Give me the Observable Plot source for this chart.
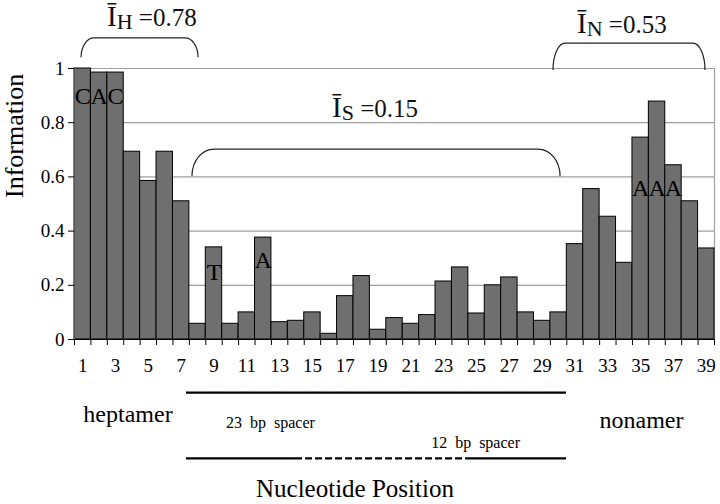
<!DOCTYPE html>
<html>
<head>
<meta charset="utf-8">
<script src="https://cdn.jsdelivr.net/npm/d3@7"></script>
<script src="https://cdn.jsdelivr.net/npm/@observablehq/plot@0.6"></script>
<style>
  html, body { margin: 0; padding: 0; background: #fff; }
</style>
</head>
<body>
<div id="chart"></div>
<script>
// ---- data ----
const positions = [1,2,3,4,5,6,7,8,9,10,11,12,13,14,15,16,17,18,19,20,21,22,23,24,25,26,27,28,29,30,31,32,33,34,35,36,37,38,39];
const information = [1.0,0.985,0.985,0.693,0.585,0.693,0.51,0.058,0.34,0.058,
                     0.10,0.376,0.064,0.069,0.10,0.021,0.16,0.234,0.036,0.079,
                     0.058,0.09,0.214,0.266,0.096,0.20,0.229,0.10,0.069,0.10,
                     0.352,0.555,0.453,0.283,0.745,0.878,0.643,0.51,0.336];
const xTickLabels = [1,3,5,7,9,11,13,15,17,19,21,23,25,27,29,31,33,35,37,39];
const yTicks = [0,0.2,0.4,0.6,0.8,1];
const yTickLabels = ["0","0.2","0.4","0.6","0.8","1"];

// consensus bases written on bars
const baseLetters = ["C","A","C","T","A","A","A","A"];
const baseLetterPos = [1,2,3,9,12,35,36,37];
const baseLetterY = [0.87,0.87,0.87,0.221,0.262,0.529,0.529,0.529];

// average information brackets (heptamer, spacer, nonamer)
const bracketNames = ["H","S","N"];
const bracketValues = ["0.78","0.15","0.53"];
const bracketFrom = [0.93, 7.69, 29.69];
const bracketTo = [8.06, 30.12, 38.95];
const bracketTop = [1.111, 0.701, 1.092];
const bracketBottom = [1.04, 0.601, 0.993];
const bracketLabelX = [2.51, 16.22, 31.15];
const bracketLabelY = [1.155, 0.819, 1.129];

// region labels below the axis
const regionLabels = ["heptamer", "nonamer"];
const regionX = [3.76, 35.05];
const regionY = [-0.306, -0.325];
const spacerLabels = ["23\u00a0 bp\u00a0 spacer", "12\u00a0 bp\u00a0 spacer"];
const spacerLabelX = [12.44, 24.94];
const spacerLabelY = [-0.325, -0.399];
const spacerLineY = [-0.196, -0.439];
const spacerSolidFrom = [7.32, 7.32, 24.45];
const spacerSolidTo = [30.48, 13.97, 30.48];
const spacerSolidRow = [0, 1, 1];
const spacerDashFrom = [13.97];
const spacerDashTo = [24.45];
const xTitle = "Nucleotide Position";
const xTitleX = 17.59;
const xTitleY = -0.583;
const yTitle = "Information";

// ---- build ----
const serif = "'Liberation Serif', 'Times New Roman', serif";
const bars = positions.map((p, i) => ({pos: p, info: information[i]}));
const letters = baseLetters.map((l, i) => ({l, pos: baseLetterPos[i], y: baseLetterY[i]}));
const boundaries = positions.map(p => p - 0.5).concat([positions[positions.length - 1] + 0.5]);
const regions = regionLabels.map((t, i) => ({t, x: regionX[i], y: regionY[i]}));
const spacers = spacerLabels.map((t, i) => ({t, x: spacerLabelX[i], y: spacerLabelY[i]}));
const solidSegs = spacerSolidFrom.map((f, i) => ({x1: f, x2: spacerSolidTo[i], y: spacerLineY[spacerSolidRow[i]]}));
const dashSegs = spacerDashFrom.map((f, i) => ({x1: f, x2: spacerDashTo[i], y: spacerLineY[1]}));
const bracketCorner = [13, 22, 12];

function bracketMark(index, scales) {
  const {x, y} = scales;
  const g = d3.create("svg:g");
  bracketNames.forEach((name, i) => {
    const x1 = x(bracketFrom[i]), x2 = x(bracketTo[i]);
    const yt = y(bracketTop[i]), yb = y(bracketBottom[i]);
    const rx = bracketCorner[i], ry = yb - yt;
    g.append("path")
      .attr("d", `M${x1},${yb}A${rx},${ry} 0 0 1 ${x1 + rx},${yt}L${x2 - rx},${yt}A${rx},${ry} 0 0 1 ${x2},${yb}`)
      .attr("fill", "none").attr("stroke", "#222").attr("stroke-width", 1.2);
    const t = g.append("text")
      .attr("x", x(bracketLabelX[i])).attr("y", y(bracketLabelY[i]))
      .attr("text-anchor", "start")
      .attr("font-family", serif).attr("font-size", 25).attr("fill", "#111");
    t.append("tspan").attr("font-size", 29).text("\u012A");
    t.append("tspan").attr("dy", 3).attr("font-size", 22).text(name);
    t.append("tspan").attr("dy", -3).text(" =" + bracketValues[i]);
  });
  return g.node();
}

const chart = Plot.plot({
  width: 720,
  height: 504,
  marginLeft: 74,
  marginRight: 6,
  marginTop: 68,
  marginBottom: 165,
  style: {fontFamily: serif, fontSize: "19px", background: "#fff", color: "#000"},
  x: {domain: [0.5, 39.5]},
  y: {domain: [0, 1]},
  marks: [
    Plot.ruleY(yTicks.filter(d => d > 0), {stroke: "#a0a0a0", strokeWidth: 1.2}),
    Plot.ruleX([boundaries[boundaries.length - 1]], {y1: 0, y2: 1, stroke: "#a0a0a0", strokeWidth: 1.2}),
    Plot.rectY(bars, {x1: d => d.pos - 0.5, x2: d => d.pos + 0.5, y: "info", fill: "#6f6f6f", stroke: "#000", strokeWidth: 1}),
    Plot.ruleX([boundaries[0]], {y1: 0, y2: 1, stroke: "#555"}),
    Plot.ruleY([0], {stroke: "#000", strokeWidth: 1.2}),
    Plot.axisY(yTicks, {tickSize: 6, tickPadding: 4, tickFormat: d => yTickLabels[yTicks.indexOf(d)], label: null, fontSize: 19}),
    Plot.axisX(boundaries, {tickSize: 6, tickFormat: () => "", label: null}),
    Plot.axisX(xTickLabels, {tickSize: 0, tickPadding: 19, label: null, fontSize: 19}),
    Plot.text(letters, {x: "pos", y: "y", text: "l", fontSize: 24, lineAnchor: "bottom", fill: "#000"}),
    bracketMark,
    Plot.text(regions, {x: "x", y: "y", text: "t", fontSize: 24, lineAnchor: "bottom"}),
    Plot.text(spacers, {x: "x", y: "y", text: "t", fontSize: 16, lineAnchor: "bottom"}),
    Plot.ruleY(solidSegs, {x1: "x1", x2: "x2", y: "y", stroke: "#000", strokeWidth: 2.2}),
    Plot.ruleY(dashSegs, {x1: "x1", x2: "x2", y: "y", stroke: "#000", strokeWidth: 2.2, strokeDasharray: "7,3"}),
    Plot.text([xTitle], {x: () => xTitleX, y: () => xTitleY, text: d => d, fontSize: 25, lineAnchor: "bottom"}),
    Plot.text([yTitle], {frameAnchor: "left", text: d => d, rotate: -90, dx: -60, dy: -6, fontSize: 26})
  ]
});
document.getElementById("chart").appendChild(chart);
</script>
</body>
</html>
